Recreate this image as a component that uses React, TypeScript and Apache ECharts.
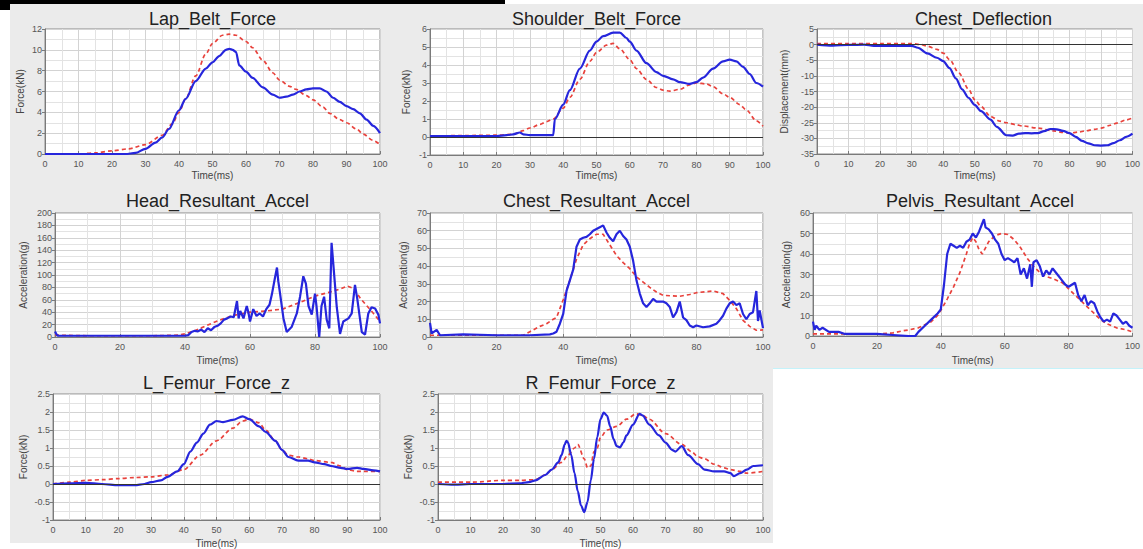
import React, { useEffect, useRef } from "react";
import * as echarts from "echarts";

type Pt = [number, number];

// ---------- data (time ms, value) ----------
const lapBeltTest: Pt[] = [[0,0],[10,0],[20,0],[24,0],[27,0.1],[30,0.5],[33,1.1],[35,1.6],[37,2.4],[40,4.2],[42,5.3],[45,7.0],[48,8.2],[50,8.8],[52,9.4],[54,10.0],[55,10.1],[56,10.0],[57,9.8],[58,8.5],[60,7.9],[62,7.3],[65,6.4],[68,5.7],[70,5.4],[72,5.5],[74,5.7],[76,6.0],[78,6.2],[80,6.3],[82,6.3],[84,6.0],[86,5.4],[88,5.0],[90,4.6],[92,4.3],[94,3.9],[96,3.3],[98,2.7],[100,2.0]];
const lapBeltSim: Pt[] = [[0,0],[10,0],[15,0.1],[20,0.3],[25,0.5],[30,0.9],[35,1.8],[38,2.9],[40,4.0],[42,5.3],[45,7.5],[48,9.6],[50,10.6],[53,11.4],[55,11.5],[57,11.4],[60,10.8],[62,10.2],[65,9.0],[68,7.8],[70,7.1],[73,6.5],[75,6.2],[78,5.6],[80,5.2],[83,4.5],[85,3.9],[88,3.3],[90,3.0],[93,2.4],[95,1.9],[98,1.3],[100,0.9]];

const shoulderTest: Pt[] = [[0,0.05],[10,0.05],[20,0.05],[23,0.1],[25,0.15],[27,0.25],[28,0.15],[30,0.1],[37,0.1],[37.5,1.0],[40,1.8],[42,2.6],[45,3.8],[48,4.8],[50,5.3],[52,5.6],[55,5.8],[57,5.8],[59,5.5],[60,5.3],[62,4.8],[65,4.1],[68,3.6],[70,3.4],[73,3.2],[75,3.05],[78,2.95],[80,3.05],[82,3.3],[85,3.8],[88,4.2],[90,4.3],[92,4.2],[94,3.9],[96,3.5],[98,3.0],[100,2.8]];
const shoulderSim: Pt[] = [[0,0.05],[10,0.08],[20,0.1],[25,0.15],[28,0.35],[30,0.5],[33,0.7],[35,0.85],[37,1.0],[40,1.6],[42,2.2],[45,3.2],[48,4.2],[50,4.7],[53,5.1],[55,5.2],[57,4.9],[60,4.3],[62,3.8],[65,3.2],[68,2.75],[70,2.6],[72,2.55],[75,2.65],[78,2.9],[80,3.0],[83,2.95],[85,2.8],[88,2.4],[90,2.2],[93,1.8],[95,1.5],[98,0.9],[100,0.6]];

const chestDefTest: Pt[] = [[0,0],[5,-0.3],[10,-0.1],[15,0],[18,-0.4],[25,-0.4],[30,-0.4],[32,-1],[35,-2.8],[38,-4.2],[40,-5.3],[42,-7.5],[44,-10.8],[46,-14.3],[48,-17],[50,-19.3],[52,-21.3],[55,-24],[57,-26.3],[60,-29.0],[62,-29.1],[64,-28.5],[66,-28.3],[68,-28.4],[70,-28.3],[72,-27.7],[74,-27.0],[76,-27.1],[78,-27.6],[80,-28.3],[82,-29.5],[84,-30.8],[86,-31.6],[88,-32.2],[90,-32.3],[92,-32.2],[94,-31.5],[96,-30.6],[98,-29.5],[100,-28.5]];
const chestDefSim: Pt[] = [[0,0.3],[10,0.3],[20,0.3],[30,0.3],[33,0],[35,-0.5],[38,-1.5],[40,-2.7],[42,-4.8],[45,-9.1],[48,-14.2],[50,-17.6],[52,-19.8],[55,-23],[58,-24.5],[60,-25],[63,-25.6],[65,-26],[70,-26.7],[75,-27.6],[78,-28.1],[80,-28.3],[83,-28.0],[85,-27.6],[88,-27.1],[90,-26.7],[93,-25.8],[95,-25.1],[98,-24.1],[100,-23.5]];

const headTest: Pt[] = [[0,9],[0.5,4],[1,2],[10,2],[20,2],[30,2],[40,2],[41,3],[42,8],[43,10],[44,9],[45,12],[46,8],[47,14],[48,11],[49,16],[50,18],[51,22],[52,28],[53,30],[54,33],[55,32],[56,58],[56.5,30],[57,42],[58,30],[59,50],[59.5,40],[60,25],[61,45],[62,34],[63,38],[64,33],[65,45],[66,52],[66.7,68],[67.7,96],[68.3,112],[68.7,90],[69.2,72],[70.3,30],[71.3,8],[72.8,16],[74.4,38],[75.4,65],[76.4,98],[77.2,86],[78,50],[79,36],[80,70],[80.5,48],[81.3,0],[82,50],[82.8,65],[83.6,28],[84.4,14],[85.1,152],[85.6,120],[86.7,48],[87.7,5],[88.7,25],[90.3,30],[91.3,38],[92.3,84],[93,62],[94.4,8],[95.4,4],[96.4,38],[97.4,48],[98.5,46],[99.5,36],[100,22]];
const headSim: Pt[] = [[0,3],[10,2],[20,2],[30,2],[38,3],[40,5],[43,10],[46,17],[50,26],[55,35],[60,40],[65,42],[70,45],[75,55],[80,66],[85,73],[88,78],[90,82],[92,78],[94,62],[96,50],[98,38],[100,25]];

const chestAccTest: Pt[] = [[0,8],[0.5,2],[2,4],[3,1],[10,1.5],[20,1],[30,1],[36,1.5],[37,2],[38,3],[39,7.5],[40,13],[41,26],[42,32],[43,38],[44,51],[45,55],[46,56],[47,56.5],[48,58],[49,60],[50,61],[51,62],[52,63],[53,59],[54,56],[55,54],[56,58],[57,60],[58,57],[59,55],[60,51],[61,43],[62,32],[63,24.5],[64,19],[65,17],[66,19],[67,21.5],[68,20],[70,20],[71,19],[72,17],[73,11],[74,14],[75,20],[76,11],[77,9.5],[78,6.5],[79,5.5],[80,6.5],[82,5.5],[84,6],[86,7.5],[87,9.5],[88,12],[89,16],[90,19],[91,20],[92,18],[93,19],[94,13],[95,10],[96,13],[97,14],[98,26],[98.5,9],[99,15],[100,5]];
const chestAccSim: Pt[] = [[0,1],[10,1],[20,1],[28,1],[30,3],[33,6],[35,7.5],[37,10],[38,11],[40,21],[42,32],[44,44],[46,52],[48,55.5],[50,58],[52,58],[54,52],[56,46],[58,42],[60,38.6],[62,34],[64,31],[66,28],[68,25.4],[70,23.5],[75,23],[78,24],[80,25],[85,26],[88,24.5],[90,20.7],[92,16],[94,9.4],[96,6],[98,3.8],[100,4]];

const pelvisTest: Pt[] = [[0,7],[0.5,3],[1,5],[2,3],[3,4],[5,2],[8,2],[10,1],[15,1],[20,1],[25,0.5],[30,0],[32,0],[33,2],[35,5],[37,8],[39,11],[40,13],[41,25],[42,40],[43,45],[44,44],[45,43],[46,44],[47,43],[48,46],[49,47],[50,50],[51,48],[52,51],[53,55],[53.5,57],[54,53],[55,52],[56,50],[57,47],[58,45],[59,40],[60,37],[61,38],[62,37],[63,36],[64,38],[65,30],[66,33],[67,28],[68,35],[68.5,24],[69,36],[70,37],[71,34],[72,29],[73,32],[74,30],[75,33],[76,31],[77,29],[78,27],[79,25],[80,24],[81,25],[82,26],[83,20],[84,17],[85,20],[86,15],[87,17],[88,16],[89,12],[90,9],[91,7],[92,8],[93,7],[94,11],[95,10],[96,8],[97,6],[98,7],[99,5],[100,4]];
const pelvisSim: Pt[] = [[0,1],[10,1],[20,1],[25,1.5],[28,2.5],[30,3],[33,4],[35,5.5],[37,7],[39,10],[40,12.5],[42,18],[44,24],[46,31],[48,40],[49,45],[50,48],[51,46],[52,42],[53,40],[54,43],[55,46],[57,49],[59,50],[61,49.5],[63,47],[65,43],[67,38],[69,34],[71,31],[73,29],[75,28],[78,26],[80,23],[82,20],[84,17],[86,14],[88,11],[90,8],[92,6],[95,4],[98,3],[100,2]];

const lFemurTest: Pt[] = [[0,0],[5,0.02],[10,0.03],[15,0],[20,-0.03],[25,-0.03],[28,0],[30,0.05],[33,0.1],[35,0.2],[38,0.35],[40,0.55],[42,0.9],[44,1.15],[46,1.4],[48,1.65],[50,1.75],[52,1.72],[55,1.78],[58,1.88],[60,1.8],[63,1.6],[65,1.45],[68,1.2],[70,0.95],[72,0.75],[75,0.65],[78,0.65],[80,0.6],[83,0.55],[85,0.5],[88,0.45],[90,0.42],[93,0.45],[95,0.42],[98,0.38],[100,0.35]];
const lFemurSim: Pt[] = [[0,0],[5,0.05],[10,0.1],[15,0.12],[20,0.15],[25,0.18],[30,0.2],[35,0.25],[40,0.4],[45,0.8],[50,1.2],[55,1.55],[58,1.75],[60,1.8],[63,1.7],[65,1.5],[68,1.2],[70,0.95],[72,0.8],[75,0.75],[78,0.7],[80,0.65],[85,0.6],[88,0.5],[90,0.4],[93,0.35],[95,0.35],[100,0.35]];

const rFemurTest: Pt[] = [[0,0],[5,-0.02],[10,0],[20,0],[25,0.02],[28,0.05],[30,0.1],[33,0.25],[35,0.4],[37,0.6],[38,0.8],[39,1.1],[39.5,1.2],[40,1.15],[41,0.8],[42,0.3],[43,-0.2],[44,-0.6],[45,-0.78],[46,-0.5],[47,0.1],[48,0.7],[49,1.3],[50,1.8],[51,1.98],[52,1.9],[53,1.6],[54,1.25],[55,1.05],[56,1.02],[57,1.15],[58,1.35],[60,1.65],[62,1.95],[63,1.9],[65,1.65],[68,1.35],[70,1.15],[72,0.95],[73,0.9],[75,1.05],[77,0.8],[80,0.55],[82,0.4],[85,0.35],[88,0.35],[90,0.3],[91,0.22],[93,0.3],[95,0.4],[97,0.5],[100,0.52]];
const rFemurSim: Pt[] = [[0,0.05],[10,0.05],[20,0.1],[25,0.1],[30,0.12],[33,0.25],[35,0.4],[38,0.6],[40,0.8],[42,1.0],[43,1.1],[45,0.7],[46,0.45],[47,0.5],[48,0.9],[49,1.0],[50,1.3],[52,1.5],[55,1.6],[58,1.8],[61,1.95],[63,1.9],[65,1.8],[70,1.4],[75,1.1],[78,0.9],[80,0.75],[82,0.7],[85,0.55],[88,0.45],[90,0.4],[93,0.35],[95,0.3],[100,0.35]];

const panelTitles = ["Lap_Belt_Force", "Shoulder_Belt_Force", "Chest_Deflection", "Head_Resultant_Accel", "Chest_Resultant_Accel", "Pelvis_Resultant_Accel", "L_Femur_Force_z", "R_Femur_Force_z"];
const yAxisNames = ["Force(kN)", "Force(kN)", "Displacement(mm)", "Acceleration(g)", "Acceleration(g)", "Acceleration(g)", "Force(kN)", "Force(kN)"];
const xAxisName = "Time(ms)";

// ---------- layout / scale config ----------
const panels = [
  { test: lapBeltTest, sim: lapBeltSim, yMin: 0, yMax: 12, yInt: 2, xInt: 10, zero: false, smooth: true, left: 45, top: 29, width: 335, height: 125, yGap: 20, xGap: 16, titleTop: 10 },
  { test: shoulderTest, sim: shoulderSim, yMin: -1, yMax: 6, yInt: 1, xInt: 10, zero: true, smooth: true, left: 430, top: 29, width: 333, height: 126, yGap: 19, xGap: 15, titleTop: 10 },
  { test: chestDefTest, sim: chestDefSim, yMin: -35, yMax: 5, yInt: 5, xInt: 10, zero: true, smooth: true, left: 817, top: 29, width: 333, height: 125, yGap: 28, xGap: 16, titleTop: 10 },
  { test: headTest, sim: headSim, yMin: 0, yMax: 200, yInt: 20, xInt: 20, zero: false, smooth: false, left: 55, top: 213, width: 325, height: 124, yGap: 27, xGap: 18, titleTop: 192 },
  { test: chestAccTest, sim: chestAccSim, yMin: 0, yMax: 70, yInt: 10, xInt: 20, zero: false, smooth: false, left: 430, top: 213, width: 333, height: 124, yGap: 22, xGap: 18, titleTop: 192 },
  { test: pelvisTest, sim: pelvisSim, yMin: 0, yMax: 60, yInt: 10, xInt: 20, zero: false, smooth: false, left: 813, top: 213, width: 334, height: 123, yGap: 22, xGap: 19, titleTop: 192 },
  { test: lFemurTest, sim: lFemurSim, yMin: -1, yMax: 2.5, yInt: 0.5, xInt: 10, zero: true, smooth: true, left: 53, top: 394, width: 327, height: 128, yGap: 25, xGap: 18, titleTop: 374 },
  { test: rFemurTest, sim: rFemurSim, yMin: -1, yMax: 2.5, yInt: 0.5, xInt: 10, zero: true, smooth: true, left: 438, top: 394, width: 325, height: 128, yGap: 25, xGap: 18, titleTop: 374 },
];

const FONT = "Liberation Sans, Arial, sans-serif";
const BLUE = "#2626dc";
const RED = "#e8423c";

function buildOption(): any {
  const grid: any[] = [];
  const xAxis: any[] = [];
  const yAxis: any[] = [];
  const series: any[] = [];
  const title: any[] = [];
  panels.forEach((p, i) => {
    grid.push({
      left: p.left, top: p.top, width: p.width, height: p.height,
      show: true, backgroundColor: "#ffffff", borderColor: "#8a8a8a", borderWidth: 1,
    });
    const common = {
      axisLine: { show: true, onZero: false, lineStyle: { color: "#7a7a7a", width: 1 } },
      splitLine: { show: true, lineStyle: { color: "#d3d3d3", width: 1 } },
      minorTick: { show: false, splitNumber: 2 },
      minorSplitLine: { show: true, lineStyle: { color: "#e3e3e3", width: 1 } },
      nameLocation: "middle",
      nameTextStyle: { fontSize: 10, color: "#444", fontFamily: FONT },
    };
    xAxis.push({
      ...common,
      type: "value", gridIndex: i, min: 0, max: 100, interval: p.xInt,
      name: xAxisName, nameGap: p.xGap,
      axisTick: { show: true, inside: true, length: 3, lineStyle: { color: "#7a7a7a" } },
      axisLabel: { fontSize: 9, color: "#555", margin: 5, fontFamily: FONT, showMinLabel: true, showMaxLabel: true },
    });
    yAxis.push({
      ...common,
      type: "value", gridIndex: i, min: p.yMin, max: p.yMax, interval: p.yInt,
      name: yAxisNames[i], nameGap: p.yGap,
      axisTick: { show: true, inside: false, length: 3, lineStyle: { color: "#7a7a7a" } },
      axisLabel: { fontSize: 9, color: "#555", margin: 3, fontFamily: FONT, showMinLabel: true, showMaxLabel: true },
    });
    title.push({
      text: panelTitles[i],
      left: p.left + p.width / 2,
      top: p.titleTop,
      textAlign: "center",
      padding: 0,
      textStyle: { fontSize: 18, fontWeight: "normal", color: "#222", fontFamily: FONT },
    });
    series.push({
      type: "line", name: "CAE", xAxisIndex: i, yAxisIndex: i, data: p.sim,
      showSymbol: false, symbol: "none", z: 3,
      smooth: p.smooth ? 0.3 : false, smoothMonotone: "x",
      lineStyle: { color: RED, width: 1.7, type: [4, 3] },
      markLine: p.zero ? {
        silent: true, symbol: "none", label: { show: false },
        lineStyle: { color: "#333", width: 1, type: "solid" },
        data: [{ yAxis: 0 }],
      } : undefined,
    });
    series.push({
      type: "line", name: "Test", xAxisIndex: i, yAxisIndex: i, data: p.test,
      showSymbol: false, symbol: "none", z: 4,
      smooth: p.smooth ? 0.3 : false, smoothMonotone: "x",
      lineStyle: { color: BLUE, width: 2.2 },
    });
  });
  return { animation: false, title, grid, xAxis, yAxis, series };
}

export default function App() {
  const ref = useRef<HTMLDivElement>(null);
  useEffect(() => {
    if (!ref.current) return;
    const chart = echarts.init(ref.current, undefined, { renderer: "svg" });
    chart.setOption(buildOption());
    return () => chart.dispose();
  }, []);
  return (
    <div style={{ position: "absolute", left: 0, top: 0, width: 1143, height: 549, background: "#ffffff", overflow: "hidden" }}>
      <div style={{ position: "absolute", left: 10, top: 4, width: 1133, height: 539, background: "#ebebeb" }} />
      <div style={{ position: "absolute", left: 0, top: 0, width: 505, height: 4, background: "#000" }} />
      <div style={{ position: "absolute", left: 0, top: 0, width: 10, height: 10, background: "#000" }} />
      <div style={{ position: "absolute", left: 773, top: 368, width: 370, height: 181, background: "#ffffff", borderTop: "1px solid #c4f2fa" }} />
      <div ref={ref} style={{ position: "absolute", left: 0, top: 0, width: 1143, height: 549 }} />
    </div>
  );
}
